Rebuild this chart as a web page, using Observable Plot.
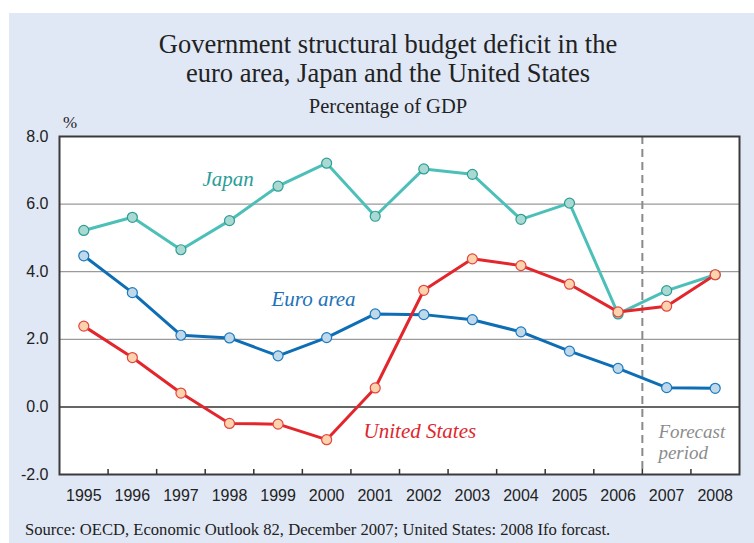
<!DOCTYPE html>
<html>
<head>
<meta charset="utf-8">
<script src="https://cdn.jsdelivr.net/npm/d3@7"></script>
<script src="https://cdn.jsdelivr.net/npm/@observablehq/plot@0.6"></script>
<style>
  html, body { margin: 0; padding: 0; background: #ffffff; }
  #page { position: relative; width: 754px; height: 543px; overflow: hidden; }
  #panel { position: absolute; left: 9px; top: 13px; width: 745px; height: 530px; background: #e0e8f5; }
  .t { position: absolute; white-space: nowrap; font-family: "Liberation Serif", "Times New Roman", serif; color: #222; }
  #chart { position: absolute; left: 0; top: 120px; }
  #chart text.lbl { font-family: "Liberation Serif", "Times New Roman", serif; font-style: italic; }
</style>
</head>
<body>
<div id="page">
  <div id="panel"></div>
  <div class="t" style="left:0;width:776px;text-align:center;top:31px;font-size:26.5px;line-height:26.5px;">Government structural budget deficit in the</div>
  <div class="t" style="left:0;width:776px;text-align:center;top:60px;font-size:26.5px;line-height:26.5px;">euro area, Japan and the United States</div>
  <div class="t" style="left:0;width:776px;text-align:center;top:96px;font-size:20.5px;line-height:20.5px;">Percentage of GDP</div>
  <div class="t" style="left:63px;top:113.5px;font-size:17px;line-height:17px;">%</div>
  <div class="t" style="left:25px;top:522px;font-size:16.6px;line-height:16.6px;">Source: OECD, Economic Outlook 82, December 2007; United States: 2008 Ifo forcast.</div>
  <div id="chart"></div>
</div>
<script>
const years = [1995, 1996, 1997, 1998, 1999, 2000, 2001, 2002, 2003, 2004, 2005, 2006, 2007, 2008];
const japan = [5.22, 5.61, 4.65, 5.51, 6.53, 7.21, 5.64, 7.04, 6.88, 5.55, 6.03, 2.75, 3.44, 3.91];
const euroArea = [4.47, 3.38, 2.12, 2.04, 1.51, 2.05, 2.75, 2.73, 2.58, 2.22, 1.65, 1.14, 0.57, 0.55];
const unitedStates = [2.39, 1.46, 0.41, -0.49, -0.51, -0.97, 0.56, 3.45, 4.38, 4.18, 3.63, 2.81, 2.98, 3.91];
const yTicks = [-2, 0, 2, 4, 6, 8];
const gridValues = [2, 4, 6];
const forecastStart = 2006.5;

const rows = s => years.map((year, i) => ({year, value: s[i]}));
const boundaries = years.slice(1).map(y => y - 0.5);

const seriesLabels = [
  {x: 1997.97, y: 6.74, text: "Japan", color: "#2a9d96"},
  {x: 1999.73, y: 3.17, text: "Euro area", color: "#1c72b8"},
  {x: 2001.92, y: -0.72, text: "United States", color: "#e0262d"}
];
const forecastLabels = [
  {x: 2006.83, y: -0.75, text: "Forecast"},
  {x: 2006.83, y: -1.37, text: "period"}
];

const series = [
  {data: rows(japan), line: "#4cc0b8", fill: "#a8d9d2", stroke: "#2e9e95"},
  {data: rows(euroArea), line: "#0e6eb5", fill: "#bfd8ea", stroke: "#1b7ac0"},
  {data: rows(unitedStates), line: "#e3262c", fill: "#fdd3ae", stroke: "#e3453f"}
];

const seriesMarks = series.flatMap(s => [
  Plot.line(s.data, {x: "year", y: "value", stroke: s.line, strokeWidth: 3}),
  Plot.dot(s.data, {x: "year", y: "value", r: 5, fill: s.fill, stroke: s.stroke, strokeWidth: 1.2})
]);

const chart = Plot.plot({
  width: 754,
  height: 394,
  marginTop: 16,
  marginBottom: 40,
  marginLeft: 59,
  marginRight: 15,
  style: {background: "transparent", fontFamily: "'Liberation Sans', Arial, sans-serif", fontSize: "16px", color: "#222"},
  x: {domain: [1994.5, 2008.5], label: null},
  y: {domain: [-2, 8], label: null},
  marks: [
    Plot.frame({fill: "white"}),
    Plot.ruleY(gridValues, {stroke: "#9a9a9a", strokeWidth: 1.2}),
    Plot.ruleY([0], {stroke: "#666666", strokeWidth: 2}),
    Plot.ruleX([forecastStart], {stroke: "#8a8a8a", strokeWidth: 2, strokeDasharray: "8,5"}),
    Plot.ruleX(boundaries, {y1: -2, y2: -1.85, stroke: "#333", strokeWidth: 1.5}),
    ...seriesMarks,
    Plot.frame({stroke: "#3a3a3a", strokeWidth: 2}),
    Plot.axisY(yTicks, {tickSize: 0, tickPadding: 11, tickFormat: d => d.toFixed(1), fontSize: 16, label: null}),
    Plot.axisX(years, {tickSize: 0, tickPadding: 15, tickFormat: d => String(d), fontSize: 16, label: null}),
    Plot.text(seriesLabels, {x: "x", y: "y", text: "text", fill: "color", fontSize: 21, textAnchor: "middle", className: "lbl"}),
    Plot.text(forecastLabels, {x: "x", y: "y", text: "text", fill: "#8c8c8c", fontSize: 19, textAnchor: "start", className: "lbl"})
  ]
});
// ensure serif italic on annotation labels
chart.querySelectorAll("g").forEach(g => {
  if (g.querySelector("text") && g.getAttribute("fill") === "#8c8c8c") {
    g.setAttribute("font-family", "Liberation Serif, Times New Roman, serif");
    g.setAttribute("font-style", "italic");
  }
});
chart.querySelectorAll("text").forEach(t => {
  const txt = t.textContent;
  if (["Japan", "Euro area", "United States", "Forecast", "period"].includes(txt)) {
    t.setAttribute("font-family", "Liberation Serif, Times New Roman, serif");
    t.setAttribute("font-style", "italic");
  }
});
document.getElementById("chart").appendChild(chart);
</script>
</body>
</html>
